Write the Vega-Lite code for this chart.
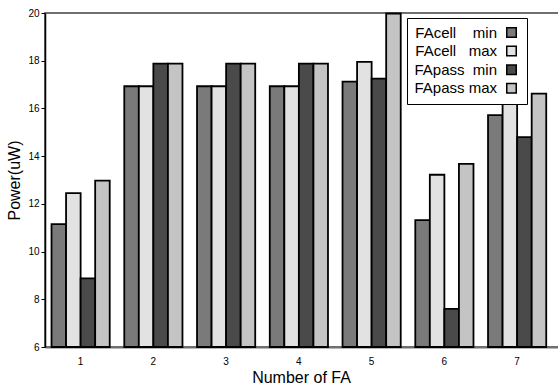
{
  "$schema": "https://vega.github.io/schema/vega-lite/v6.json",
  "width": 518,
  "height": 334,
  "autosize": {"type": "none"},
  "padding": {"left": 45, "top": 13, "right": 0, "bottom": 37},
  "background": "white",
  "config": {
    "font": "Liberation Sans",
    "view": {"stroke": "#707070", "strokeWidth": 2}
  },
  "data": {
    "values": [
      {"fa": "1", "series": "FAcell\u00a0\u00a0\u00a0\u00a0min", "power": 11.15},
      {"fa": "1", "series": "FAcell\u00a0\u00a0\u00a0max", "power": 12.45},
      {"fa": "1", "series": "FApass\u00a0\u00a0min", "power": 8.88},
      {"fa": "1", "series": "FApass max", "power": 12.97},
      {"fa": "2", "series": "FAcell\u00a0\u00a0\u00a0\u00a0min", "power": 16.93},
      {"fa": "2", "series": "FAcell\u00a0\u00a0\u00a0max", "power": 16.93},
      {"fa": "2", "series": "FApass\u00a0\u00a0min", "power": 17.88},
      {"fa": "2", "series": "FApass max", "power": 17.88},
      {"fa": "3", "series": "FAcell\u00a0\u00a0\u00a0\u00a0min", "power": 16.93},
      {"fa": "3", "series": "FAcell\u00a0\u00a0\u00a0max", "power": 16.93},
      {"fa": "3", "series": "FApass\u00a0\u00a0min", "power": 17.88},
      {"fa": "3", "series": "FApass max", "power": 17.88},
      {"fa": "4", "series": "FAcell\u00a0\u00a0\u00a0\u00a0min", "power": 16.93},
      {"fa": "4", "series": "FAcell\u00a0\u00a0\u00a0max", "power": 16.93},
      {"fa": "4", "series": "FApass\u00a0\u00a0min", "power": 17.88},
      {"fa": "4", "series": "FApass max", "power": 17.88},
      {"fa": "5", "series": "FAcell\u00a0\u00a0\u00a0\u00a0min", "power": 17.12},
      {"fa": "5", "series": "FAcell\u00a0\u00a0\u00a0max", "power": 17.95},
      {"fa": "5", "series": "FApass\u00a0\u00a0min", "power": 17.25},
      {"fa": "5", "series": "FApass max", "power": 19.98},
      {"fa": "6", "series": "FAcell\u00a0\u00a0\u00a0\u00a0min", "power": 11.32},
      {"fa": "6", "series": "FAcell\u00a0\u00a0\u00a0max", "power": 13.22},
      {"fa": "6", "series": "FApass\u00a0\u00a0min", "power": 7.6},
      {"fa": "6", "series": "FApass max", "power": 13.68},
      {"fa": "7", "series": "FAcell\u00a0\u00a0\u00a0\u00a0min", "power": 15.72},
      {"fa": "7", "series": "FAcell\u00a0\u00a0\u00a0max", "power": 16.18},
      {"fa": "7", "series": "FApass\u00a0\u00a0min", "power": 14.8},
      {"fa": "7", "series": "FApass max", "power": 16.62}
    ]
  },
  "mark": {"type": "bar", "stroke": "black", "strokeWidth": 1.8},
  "encoding": {
    "x": {
      "field": "fa",
      "type": "nominal",
      "scale": {"paddingInner": 0.2, "paddingOuter": 0.16, "align": 0.28},
      "axis": {
        "title": "Number of FA",
        "titleFontSize": 16,
        "titleFontWeight": "normal",
        "titleColor": "black",
        "titlePadding": 3,
        "titleX": 256,
        "labelAngle": 0,
        "labelFontSize": 10,
        "labelColor": "black",
        "labelPadding": 9,
        "ticks": false,
        "domainColor": "#707070",
        "domainWidth": 2
      }
    },
    "xOffset": {
      "field": "series",
      "type": "nominal",
      "sort": ["FAcell\u00a0\u00a0\u00a0\u00a0min", "FAcell\u00a0\u00a0\u00a0max", "FApass\u00a0\u00a0min", "FApass max"]
    },
    "y": {
      "field": "power",
      "type": "quantitative",
      "scale": {"domain": [6, 20], "zero": false, "nice": false},
      "axis": {
        "title": "Power(uW)",
        "titleFontSize": 16,
        "titleFontWeight": "normal",
        "titleColor": "black",
        "titlePadding": 5,
        "values": [6, 8, 10, 12, 14, 16, 18, 20],
        "grid": false,
        "labelFontSize": 10,
        "labelColor": "black",
        "labelPadding": 2,
        "tickSize": 4,
        "tickColor": "black",
        "domainColor": "black",
        "domainWidth": 1.5
      }
    },
    "y2": {"datum": 6},
    "fill": {
      "field": "series",
      "type": "nominal",
      "sort": ["FAcell\u00a0\u00a0\u00a0\u00a0min", "FAcell\u00a0\u00a0\u00a0max", "FApass\u00a0\u00a0min", "FApass max"],
      "scale": {"range": ["#7a7a7a", "#e2e2e2", "#4a4a4a", "#c4c4c4"]},
      "legend": {
        "title": null,
        "orient": "none",
        "legendX": 362,
        "legendY": 5,
        "fillColor": "white",
        "strokeColor": "black",
        "padding": 7,
        "symbolType": "square",
        "symbolSize": 90,
        "symbolStrokeColor": "black",
        "symbolStrokeWidth": 1.5,
        "symbolOffset": 90,
        "labelAlign": "right",
        "labelOffset": -22,
        "labelFontSize": 15,
        "labelColor": "black",
        "labelLimit": 200,
        "rowPadding": 1.6
      }
    }
  }
}
